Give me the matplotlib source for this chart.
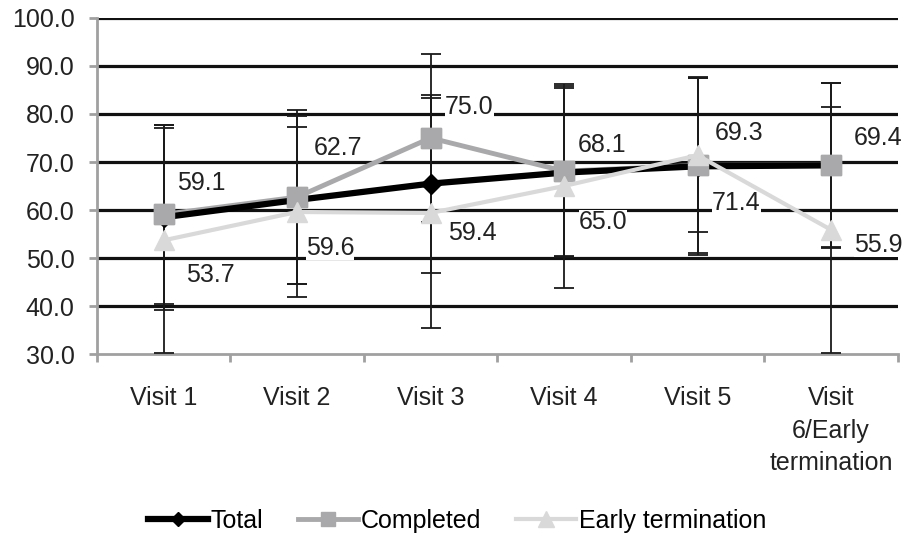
import matplotlib
matplotlib.use("Agg")
import matplotlib.pyplot as plt
import numpy as np

plt.rcParams['font.family'] = ['Liberation Sans', 'DejaVu Sans']

visits = ["Visit 1", "Visit 2", "Visit 3", "Visit 4", "Visit 5", "Visit\n6/Early\ntermination"]

total = [58.5, 62.1, 65.5, 67.8, 69.1, 69.3]
completed = [59.1, 62.7, 75.0, 68.1, 69.3, 69.4]
early = [53.7, 59.6, 59.4, 65.0, 71.4, 55.9]

total_sd = [19.3, 17.5, 18.5, 17.5, 18.4, 17.2]
completed_sd = [18.6, 18.1, 17.5, 17.7, 18.3, 17.0]
early_sd = [23.4, 17.7, 24.0, 21.2, 16.0, 25.6]

# label offsets in pixels (dx, dy) -- hand placed like the original
comp_off = [(38, 31), (41, 49), (39, 31), (38, 26), (42, 32), (47, 27)]
early_off = [(47, -35), (33, -36), (42, -20), (39, -36), (39, -48), (47, -15)]

FS = 18

fig = plt.figure(figsize=(9.05, 5.4), dpi=100)
ax = fig.add_axes([0.107, 0.344, 0.885, 0.623])

x = np.arange(len(visits))

for vals, sd in [(total, total_sd), (completed, completed_sd), (early, early_sd)]:
    ax.errorbar(x, vals, yerr=sd, fmt='none', ecolor='#1a1a1a', elinewidth=1.3,
                capsize=7, capthick=1.3, zorder=3)

ax.plot(x, completed, color='#a9a9ab', lw=3.5, marker='s', ms=14, label='Completed', zorder=4)
ax.plot(x, total, color='black', lw=4.5, marker='D', ms=10, label='Total', zorder=4.5)
ax.plot(x, completed, ls='none', color='#a9a9ab', marker='s', ms=14, zorder=5)
ax.plot(x, early, color='#d9d9d9', lw=3, marker='^', ms=15, label='Early termination', zorder=6)

for i in range(len(x)):
    ax.annotate(f"{completed[i]:.1f}", (x[i], completed[i]), xytext=(comp_off[i][0] * 0.72, comp_off[i][1] * 0.72),
                textcoords='offset points', ha='center', va='center', fontsize=FS, color='#222222',
                bbox=dict(facecolor='white', edgecolor='none', pad=0), zorder=2.5)
    ax.annotate(f"{early[i]:.1f}", (x[i], early[i]), xytext=(early_off[i][0] * 0.72, early_off[i][1] * 0.72),
                textcoords='offset points', ha='center', va='center', fontsize=FS, color='#222222',
                bbox=dict(facecolor='white', edgecolor='none', pad=0), zorder=2.5)

ax.set_xlim(-0.5, len(visits) - 0.5)
ax.set_ylim(30, 100)
ax.set_yticks(np.arange(30, 101, 10))
ax.set_yticklabels([f"{v:.1f}" for v in np.arange(30, 101, 10)], fontsize=FS, color='#222222')
for v in np.arange(40, 101, 10):
    ax.axhline(v, color='#111111', lw=2.3, zorder=1)

ax.set_xticks(x)
ax.set_xticklabels(visits, fontsize=FS, color='#222222', linespacing=1.45)
ax.set_xticks(np.arange(-0.5, len(visits), 1), minor=True)
ax.tick_params(axis='x', which='major', length=0, pad=23)
ax.tick_params(axis='x', which='minor', length=6, width=2, color='#a0a0a0')
ax.tick_params(axis='y', length=6, width=2, color='#a0a0a0', pad=10)

for s in ['top', 'right']:
    ax.spines[s].set_visible(False)
for s in ['left', 'bottom']:
    ax.spines[s].set_color('#a0a0a0')
    ax.spines[s].set_linewidth(2)

h, l = ax.get_legend_handles_labels()
order = [1, 0, 2]
fig.legend([h[i] for i in order], [l[i] for i in order], loc='center', bbox_to_anchor=(0.505, 0.035),
           ncol=3, frameon=False, fontsize=FS,
           handlelength=2.4, columnspacing=1.4, handletextpad=0.1, markerscale=0.75)

fig.savefig("out.png", dpi=100)
